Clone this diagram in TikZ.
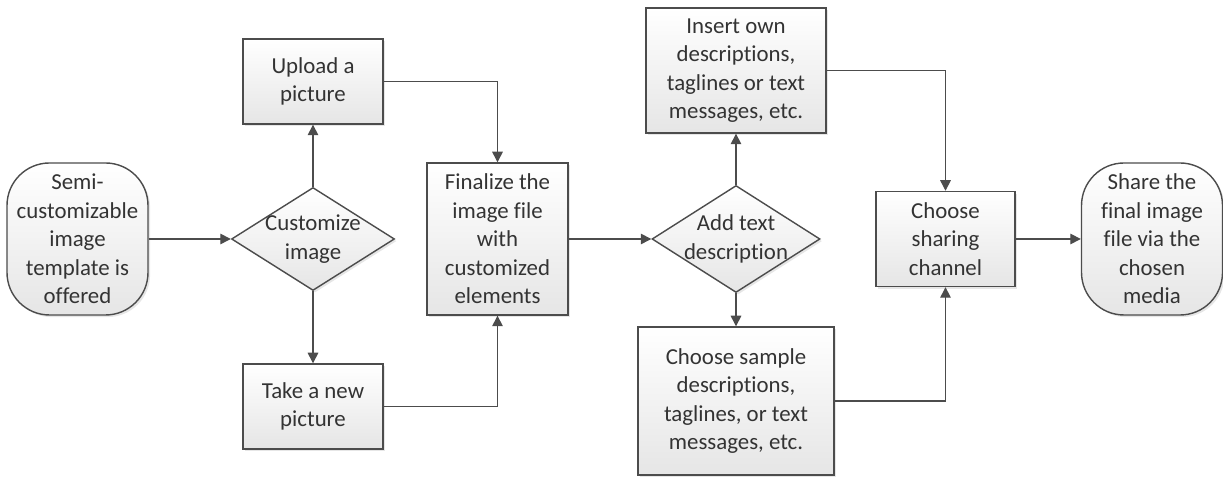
\documentclass[tikz,border=0pt]{standalone}
\usepackage{fontspec}
\setmainfont[Ligatures=NoCommon]{Carlito}
\usetikzlibrary{shapes.geometric,arrows.meta,shadows}
\definecolor{line1}{rgb}{0.3,0.3,0.3}
\definecolor{text1}{rgb}{0.2,0.2,0.2}
\definecolor{fill1}{rgb}{0.9,0.9,0.9}

\tikzset{
  chartbox/.style={draw=line1, line width=0.8pt, text=text1, align=center,
    top color=white, bottom color=fill1,
    font=\fontsize{13}{16.2}\selectfont,
    drop shadow={shadow xshift=1.2pt, shadow yshift=-1.2pt, opacity=0.2}},
  procbox/.style={chartbox, rectangle, inner sep=0pt},
  termbox/.style={chartbox, rectangle, rounded corners=0.85cm, inner sep=0pt,
    minimum width=2.82cm, minimum height=3.04cm},
  decbox/.style={chartbox, diamond, shape aspect=1.57, inner xsep=-0.15cm, inner ysep=0pt},
  arrowline/.style={draw=line1, line width=0.8pt, -{Triangle[length=6pt,width=6pt]}}
}

\begin{document}
\begin{tikzpicture}
\useasboundingbox (0,0) rectangle (24.46,9.54);

% steps
\node[termbox] (start) at (1.55,4.76) {Semi-\\customizable\\image\\template is\\offered};
\node[decbox, minimum width=3.26cm, minimum height=2.06cm] (custom) at (6.26,4.76) {Customize\\image};
\node[procbox, minimum width=2.8cm, minimum height=1.7cm] (upload) at (6.26,7.91) {Upload a\\picture};
\node[procbox, minimum width=2.8cm, minimum height=1.7cm] (take) at (6.26,1.41) {Take a new\\picture};
\node[procbox, minimum width=2.82cm, minimum height=3.04cm] (final) at (9.95,4.76) {Finalize the\\image file\\with\\customized\\elements};
\node[decbox, minimum width=3.36cm, minimum height=2.14cm] (addtext) at (14.72,4.76) {Add text\\description};
\node[procbox, minimum width=3.6cm, minimum height=2.5cm] (insert) at (14.72,8.13) {Insert own\\descriptions,\\taglines or text\\messages, etc.};
\node[procbox, minimum width=3.92cm, minimum height=2.96cm] (sample) at (14.72,1.52) {Choose sample\\descriptions,\\taglines, or text\\messages, etc.};
\node[procbox, minimum width=2.78cm, minimum height=1.9cm] (channel) at (18.91,4.76) {Choose\\sharing\\channel};
\node[termbox] (share) at (23.04,4.76) {Share the\\final image\\file via the\\chosen\\media};

% connectors
\draw[arrowline] (start) -- (custom);
\draw[arrowline] (custom) -- (upload);
\draw[arrowline] (custom) -- (take);
\draw[arrowline] (upload) -| (final);
\draw[arrowline] (take) -| (final);
\draw[arrowline] (final) -- (addtext);
\draw[arrowline] (addtext) -- (insert);
\draw[arrowline] (addtext) -- (sample);
\draw[arrowline] (insert) -| (channel);
\draw[arrowline] (sample) -| (channel);
\draw[arrowline] (channel) -- (share);
\end{tikzpicture}
\end{document}
